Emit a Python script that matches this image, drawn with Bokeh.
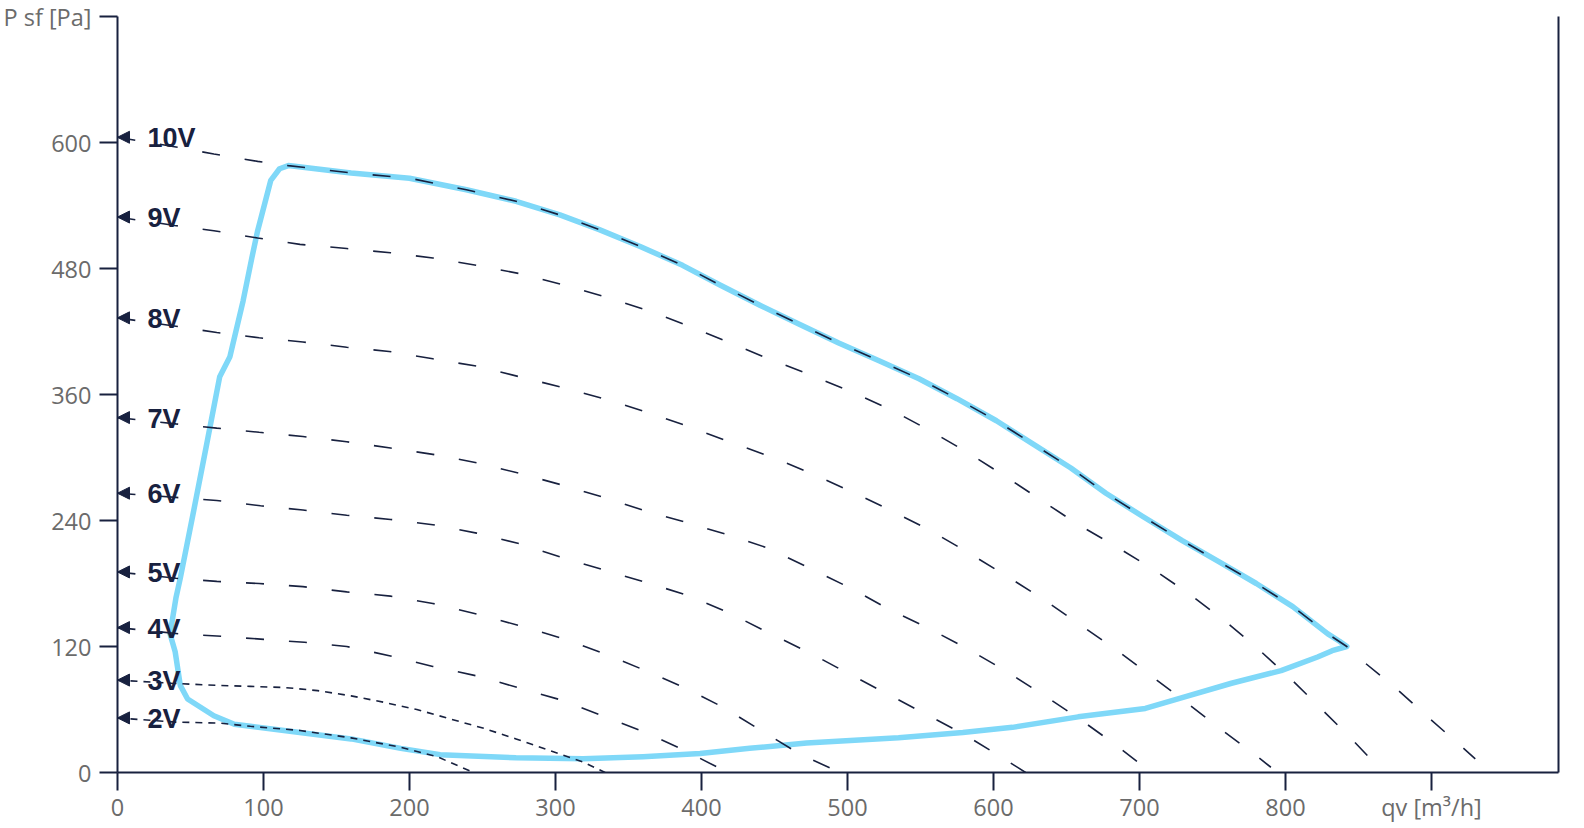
from bokeh.plotting import figure
from bokeh.models import Range1d, FixedTicker, LinearAxis, ColumnDataSource, Arrow, NormalHead
from bokeh.core.properties import value
from bokeh.embed import file_html
from bokeh.resources import INLINE

# ---- data: qv [m3/h] (x) vs P sf [Pa] (y) ----
x_ticks = [0, 100, 200, 300, 400, 500, 600, 700, 800, 900]
y_ticks = [0, 120, 240, 360, 480, 600, 720]
x_label = "qv [m³/h]"
y_label = "P sf [Pa]"

# working-range envelope (blue)
env_x = [36, 40, 43, 52, 61, 70, 77, 86, 92, 96, 105, 111, 117, 160, 200, 239, 273, 303, 330, 358, 387, 413,
         440, 467, 494, 522, 549, 575, 602, 628, 653, 677, 702, 729, 754, 780, 805, 829, 837, 842, 832, 822,
         797, 763, 731, 704, 658, 613, 579, 535, 472, 433, 399, 360, 319, 273, 221, 194, 160, 114, 91, 80,
         66, 48, 43, 39.5, 36]
env_y = [132, 166, 185, 248, 312, 377, 396, 449, 490, 516, 564, 575, 578, 571, 566, 555, 544, 531, 517, 501,
         483, 464, 445, 427, 409, 392, 375, 356, 335, 312, 290, 266, 244, 221, 201, 180, 158, 132, 125, 120,
         116, 110, 97, 85, 72, 61, 53, 43, 38, 33, 28, 23, 18, 15, 13, 14, 17, 23, 32, 40, 44, 46, 54, 70,
         83, 115, 132]

# control-voltage curves
v10_x = [0, 39, 66, 96, 117, 160, 200, 239, 273, 303, 330, 358, 387, 413, 440, 467, 494, 522, 549, 575, 602,
         628, 653, 677, 702, 729, 754, 780, 805, 829, 842, 853, 875, 899, 922, 930]
v10_y = [605, 596, 589, 582, 578, 571, 566, 555, 544, 531, 517, 501, 483, 464, 445, 427, 409, 392, 375, 356,
         335, 312, 290, 266, 244, 221, 201, 180, 158, 132, 120, 106, 81, 51, 23, 13]
v9_x = [0, 39, 66, 96, 125, 157, 187, 216, 246, 276, 304, 334, 363, 390, 418, 446, 474, 502, 529, 556, 582,
        607, 632, 657, 683, 709, 734, 758, 781, 803, 825, 846, 867]
v9_y = [529, 521, 516, 509, 503, 499, 495, 490, 483, 475, 465, 453, 440, 426, 410, 394, 379, 363, 346, 326,
        305, 283, 260, 237, 216, 194, 170, 145, 118, 90, 60, 31, 0]
v8_x = [0, 40, 68, 97, 127, 157, 186, 216, 246, 275, 304, 333, 363, 390, 419, 447, 475, 502, 529, 556, 582,
        608, 633, 658, 683, 707, 731, 755, 779, 790]
v8_y = [433, 425, 419, 414, 410, 405, 401, 394, 387, 377, 367, 356, 343, 330, 315, 301, 285, 268, 250, 231,
        210, 188, 166, 142, 118, 93, 68, 42, 17, 5]
v7_x = [0, 40, 68, 97, 127, 157, 187, 216, 246, 275, 304, 333, 362, 390, 419, 445, 475, 503, 529, 556, 582,
        608, 634, 659, 683, 708]
v7_y = [338, 332, 328, 324, 320, 315, 309, 303, 295, 285, 274, 262, 249, 238, 226, 214, 194, 175, 155, 137,
        118, 97, 74, 51, 27, 0]
v6_x = [0, 40, 68, 98, 127, 157, 187, 216, 246, 275, 304, 333, 362, 390, 419, 446, 474, 501, 527, 553, 579,
        605, 622]
v6_y = [266, 262, 259, 254, 250, 245, 241, 236, 228, 218, 205, 193, 181, 169, 152, 133, 114, 94, 75, 56, 37,
        15, 0]
v5_x = [0, 40, 68, 97, 127, 157, 187, 216, 246, 275, 304, 332, 360, 388, 415, 442, 468, 495]
v5_y = [191, 185, 182, 180, 177, 172, 168, 161, 151, 140, 128, 114, 98, 81, 62, 39, 17, 0]
v4_x = [0, 43, 68, 98, 128, 157, 187, 216, 246, 274, 304, 332, 360, 387, 418]
v4_y = [138, 132, 130, 127, 124, 120, 111, 101, 92, 81, 69, 54, 39, 22, 0]
v3_x = [0, 37, 68, 91, 114, 137, 160, 182, 205, 228, 251, 273, 296, 319, 334]
v3_y = [88, 85, 83, 82, 81, 78, 73, 67, 60, 51, 42, 32, 21, 10, 0]
v2_x = [0, 40, 70, 91, 125, 160, 194, 219, 244]
v2_y = [52, 48, 47, 44, 40, 33, 24, 15, 0]

voltage_labels = ["10V", "9V", "8V", "7V", "6V", "5V", "4V", "3V", "2V"]
curves_x = [v10_x, v9_x, v8_x, v7_x, v6_x, v5_x, v4_x, v3_x, v2_x]
curves_y = [v10_y, v9_y, v8_y, v7_y, v6_y, v5_y, v4_y, v3_y, v2_y]
fine_dash = {"3V", "2V"}

# ---- styling ----
NAVY = "#18213f"
BLUE = "#7fd8f8"
GREY = "#6b6b6b"

p = figure(frame_width=1441, frame_height=756,
           x_range=Range1d(0, 987), y_range=Range1d(0, 720),
           output_backend="svg", toolbar_location=None,
           min_border_left=115, min_border_right=12, min_border_top=16, min_border_bottom=40)
p.grid.visible = False
p.outline_line_color = None
p.background_fill_color = "white"
p.border_fill_color = "white"

for ax in (p.xaxis[0], p.yaxis[0]):
    ax.axis_line_color = NAVY
    ax.axis_line_width = 2
    ax.major_tick_line_color = NAVY
    ax.major_tick_line_width = 2
    ax.major_tick_out = 18
    ax.major_tick_in = 0
    ax.minor_tick_line_color = None
    ax.major_label_text_color = GREY
    ax.major_label_text_font = "Open Sans"
    ax.major_label_text_font_size = "23.5px"

p.xaxis.ticker = FixedTicker(ticks=x_ticks)
p.yaxis.ticker = FixedTicker(ticks=y_ticks)
p.xaxis.major_label_overrides = {x_ticks[-1]: x_label}
p.yaxis.major_label_overrides = {y_ticks[-1]: y_label}
p.xaxis.major_label_standoff = 0
p.yaxis.major_label_standoff = 8

right = LinearAxis(ticker=FixedTicker(ticks=[]), axis_line_color=NAVY, axis_line_width=2,
                   major_tick_line_color=None, minor_tick_line_color=None,
                   major_label_text_font_size="0px")
p.add_layout(right, "right")

# envelope
p.line(env_x, env_y, line_color=BLUE, line_width=5.5, line_join="round", line_cap="round")

# labels
starts = [cy[0] for cy in curves_y]
p.text(x=[0] * len(starts), y=starts, text=voltage_labels, x_offset=30, y_offset=1,
       text_align="left", text_baseline="middle",
       text_font=value("Liberation Sans"), text_font_style="bold",
       text_font_size="27px", text_color=NAVY)

# voltage curves
for lab, cx, cy in zip(voltage_labels, curves_x, curves_y):
    if lab in fine_dash:
        p.line(cx, cy, line_color=NAVY, line_width=1.6, line_dash="7 6")
    else:
        p.line(cx, cy, line_color=NAVY, line_width=1.6, line_dash="18 25")

# arrow heads on the pressure axis
src = ColumnDataSource(dict(xs=[6] * len(starts), xe=[0] * len(starts), y=starts))
p.add_layout(Arrow(end=NormalHead(size=12, fill_color=NAVY, line_color=NAVY, line_width=1),
                   x_start="xs", y_start="y", x_end="xe", y_end="y",
                   source=src, line_alpha=0))

open("out.html", "w").write(file_html(p, INLINE))
